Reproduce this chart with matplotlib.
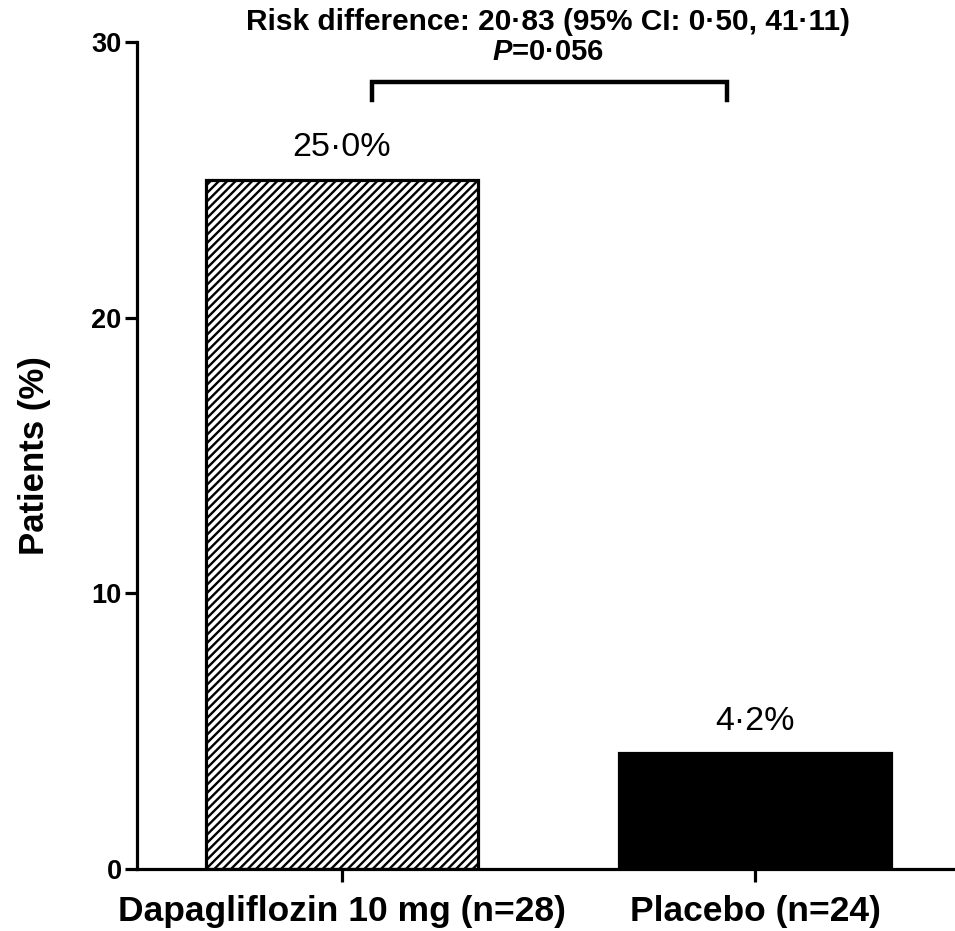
import matplotlib
matplotlib.use('Agg')
import matplotlib.pyplot as plt

plt.rcParams['font.family'] = ['Liberation Sans', 'DejaVu Sans']
plt.rcParams['hatch.linewidth'] = 1.7
plt.rcParams['mathtext.fontset'] = 'custom'
plt.rcParams['mathtext.it'] = 'Liberation Sans:style=italic:weight=bold'
plt.rcParams['mathtext.rm'] = 'Liberation Sans:weight=bold'

groups = ['Dapagliflozin 10 mg (n=28)', 'Placebo (n=24)']
values = [25.0, 4.2]
value_labels = ['25·0%', '4·2%']
hatches = ['////', None]
fills = ['white', 'black']
yticks = [0, 10, 20, 30]
risk_text = 'Risk difference: 20·83 (95% CI: 0·50, 41·11)'
p_text = r'$\mathit{P}$=0·056'

fig = plt.figure(figsize=(9.55, 9.31), dpi=100)
ax = fig.add_axes([137 / 955, 62 / 931, (955 - 137) / 955, (869 - 42) / 931])

x = list(range(len(groups)))
bars = ax.bar(x, values, width=0.66, color=fills, edgecolor='black', linewidth=2.3)
for b, h in zip(bars, hatches):
    if h:
        b.set_hatch(h)

for xi, v, lab in zip(x, values, value_labels):
    ax.annotate(lab, (xi, v), xytext=(0, 17), textcoords='offset points',
                ha='center', va='baseline', fontsize=24.5)

ax.set_xlim(-0.496, 1.484)
ax.set_ylim(0, 30)
ax.set_yticks(yticks)
ax.set_yticklabels([str(t) for t in yticks], fontsize=19.5, fontweight='bold')
ax.set_xticks(x)
ax.set_xticklabels(groups, fontsize=25.5, fontweight='bold')
ax.set_ylabel('Patients (%)', fontsize=25, fontweight='bold', labelpad=29)

for s in ['top', 'right']:
    ax.spines[s].set_visible(False)
for s in ['left', 'bottom']:
    ax.spines[s].set_linewidth(2.3)
ax.tick_params(axis='y', length=9, width=2.3, pad=2)
ax.tick_params(axis='x', length=9, width=2.3, pad=10)

# significance bracket
bx0, bx1 = x[0] + 0.073, x[1] - 0.068
ax.plot([bx0, bx0, bx1, bx1], [27.9, 28.55, 28.55, 27.9], color='black', lw=3.2,
        clip_on=False, solid_joinstyle='miter')
mid = (x[0] + x[1]) / 2
ax.text(mid, 30.72, risk_text, ha='center', va='center', fontsize=21.5,
        fontweight='bold', clip_on=False)
ax.text(mid, 29.63, p_text, ha='center', va='center', fontsize=21,
        fontweight='bold', clip_on=False)

fig.savefig('out.png', dpi=100)
